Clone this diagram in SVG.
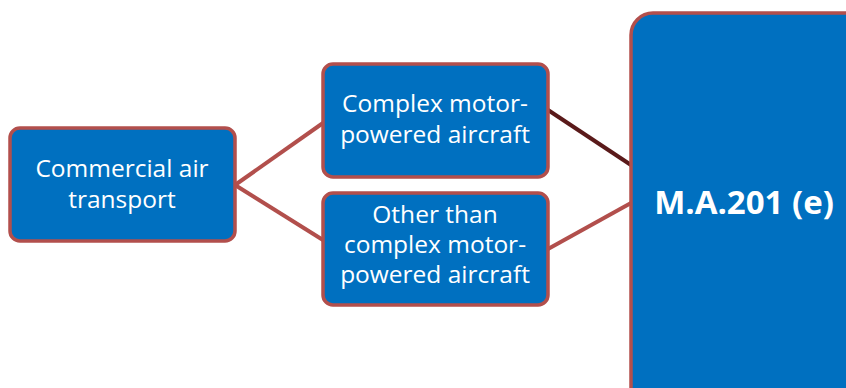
<svg xmlns="http://www.w3.org/2000/svg" width="846" height="388" viewBox="0 0 846 388">
<style>
.box{fill:#0070C0;stroke:#B24F4C;stroke-width:3.5}
.t{fill:#fff;font-family:"Open Sans","Liberation Sans",sans-serif;font-size:24.5px;text-anchor:middle}
.tb{fill:#fff;font-family:"Open Sans","Liberation Sans",sans-serif;font-size:33px;font-weight:bold;text-anchor:middle}
.c{stroke:#B24F4C;stroke-width:4;fill:none}
</style>
<rect width="846" height="388" fill="#fff"/>
<g id="connectors">
<line class="c" x1="235" y1="185" x2="323" y2="123"/>
<line class="c" x1="235" y1="185" x2="323" y2="240"/>
<line class="c" x1="548" y1="110" x2="631" y2="165" style="stroke:#5A1A1A"/>
<line class="c" x1="548" y1="249" x2="631" y2="203"/>
</g>
<g id="commercial">
<rect class="box" x="10" y="128" width="225" height="113" rx="10"/>
<text class="t" x="122" y="177">Commercial air</text>
<text class="t" x="122" y="208">transport</text>
</g>
<g id="complex">
<rect class="box" x="323" y="64" width="225" height="113" rx="10"/>
<text class="t" x="435" y="112">Complex motor-</text>
<text class="t" x="435" y="143">powered aircraft</text>
</g>
<g id="other">
<rect class="box" x="323" y="193" width="225" height="112" rx="10"/>
<text class="t" x="435" y="223">Other than</text>
<text class="t" x="435" y="253">complex motor-</text>
<text class="t" x="435" y="283">powered aircraft</text>
</g>
<g id="ma201">
<rect class="box" x="631" y="13" width="240" height="400" rx="22"/>
<text class="tb" x="744" y="214">M.A.201 (e)</text>
</g>
</svg>
